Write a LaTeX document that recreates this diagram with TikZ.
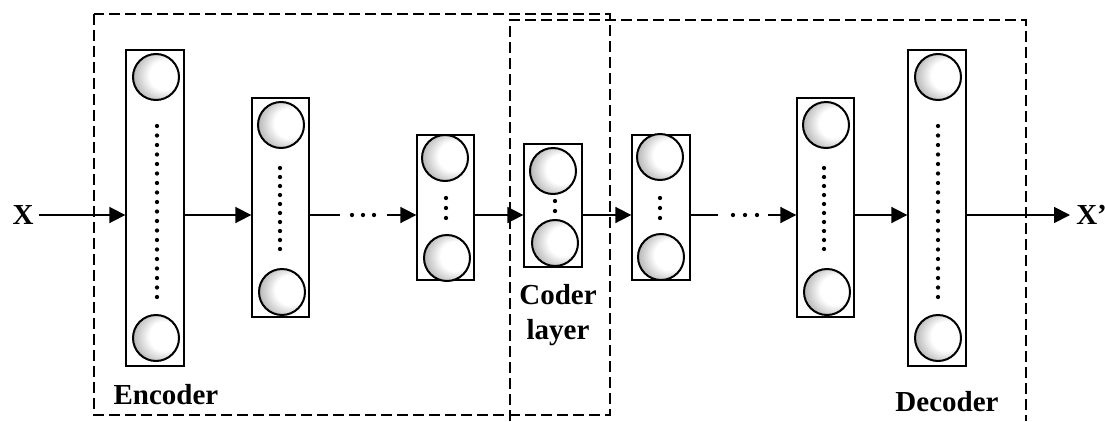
\documentclass[tikz,border=0pt]{standalone}
\usepackage{fontspec}
\setmainfont{Liberation Serif}
\usetikzlibrary{arrows.meta}
\pgfdeclareradialshading{neuronball}{\pgfpoint{13bp}{3bp}}{color(0bp)=(white); color(16bp)=(white); color(40bp)=(black!48); color(50bp)=(black!48)}
\tikzset{
  layerbox/.style={draw, line width=1pt, fill=white, inner sep=0pt},
  neuron/.style={circle, draw, line width=1.5pt, minimum size=34.5pt, inner sep=0pt, shade, shading=neuronball},
  ndot/.style={circle, fill=black, minimum size=3.2pt, inner sep=0pt},
  arr/.style={line width=1.3pt, -{Triangle[length=12pt,width=12pt]}},
  plain/.style={line width=1.3pt},
  groupbox/.style={line width=1pt, dash pattern=on 8pt off 4pt},
  lbl/.style={font=\fontsize{21.75}{26}\selectfont\bfseries, inner sep=0pt, align=center}
}
\begin{document}
\begin{tikzpicture}[x=0.75pt, y=-0.75pt]
\useasboundingbox (0,0) rectangle (1105,421);
% group boxes
\draw[groupbox] (94,14) rectangle (610,415);
\draw[groupbox] (510,421) -- (510,20) -- (1026,20) -- (1026,421);
% layers
\node[layerbox, minimum width=43.5pt, minimum height=237pt] (L1) at (155,208) {};
\node[layerbox, minimum width=42.75pt, minimum height=164.25pt] (L2) at (280.5,207.5) {};
\node[layerbox, minimum width=42.75pt, minimum height=108.75pt] (L3) at (445.5,207.5) {};
\node[layerbox, minimum width=43.5pt, minimum height=92.25pt] (C) at (553,205.5) {};
\node[layerbox, minimum width=43.5pt, minimum height=108.75pt] (L5) at (661,207.5) {};
\node[layerbox, minimum width=42.75pt, minimum height=164.25pt] (L6) at (825.5,207.5) {};
\node[layerbox, minimum width=43.5pt, minimum height=237pt] (L7) at (937,208) {};
% neurons
\node[neuron] (n1a) at (156,77) {};
\node[neuron] (n1b) at (156,338) {};
\node[neuron] (n2a) at (281,125) {};
\node[neuron] (n2b) at (282,292) {};
\node[neuron] (n3a) at (445,158) {};
\node[neuron] (n3b) at (447,258) {};
\node[neuron] (nca) at (553,171) {};
\node[neuron] (ncb) at (555,243) {};
\node[neuron] (n5a) at (660,157) {};
\node[neuron] (n5b) at (661,257) {};
\node[neuron] (n6a) at (826,125) {};
\node[neuron] (n6b) at (827,292) {};
\node[neuron] (n7a) at (938,77) {};
\node[neuron] (n7b) at (938,338) {};
% dots inside layers
\foreach \k in {0,...,18} {
  \node[ndot] at (157,126+9.5*\k) {};
  \node[ndot] at (938,126+9.5*\k) {};
}
\foreach \k in {0,...,9} {
  \node[ndot] at (280,168+9*\k) {};
  \node[ndot] at (824,168+9*\k) {};
}
\foreach \k in {0,1,2} {
  \node[ndot] at (446,198+10*\k) {};
  \node[ndot] at (660,198+10*\k) {};
}
\node[ndot] at (555,201) {};
\node[ndot] at (555,211) {};
% labels
\node[lbl] (X) at (23,215) {X};
\node[lbl, anchor=west] (Xp) at (1076,215) {X'};
\node[lbl] (enc) at (166,395) {Encoder};
\node[lbl] (dec) at (947,402) {Decoder};
\node[lbl] (cod) at (558,315) {Coder\\layer};
% connectors
\coordinate (g1) at (340,215);
\coordinate (g1b) at (387,215);
\coordinate (g2) at (718,215);
\coordinate (g2b) at (768,215);
\coordinate (out) at (1070,215);
\draw[arr] (X.east) ++(4pt,0) -- (L1.west |- X);
\draw[arr] (L1.east |- X) -- (L2.west |- X);
\draw[plain] (L2.east |- X) -- (g1);
\foreach \xx in {352,363,374} \node[ndot] at (\xx,215) {};
\draw[arr] (g1b) -- (L3.west |- X);
\draw[arr] (L3.east |- X) -- (C.west |- X);
\draw[arr] (C.east |- X) -- (L5.west |- X);
\draw[plain] (L5.east |- X) -- (g2);
\foreach \xx in {733,745,757} \node[ndot] at (\xx,215) {};
\draw[arr] (g2b) -- (L6.west |- X);
\draw[arr] (L6.east |- X) -- (L7.west |- X);
\draw[arr] (L7.east |- X) -- (out);
\end{tikzpicture}
\end{document}
